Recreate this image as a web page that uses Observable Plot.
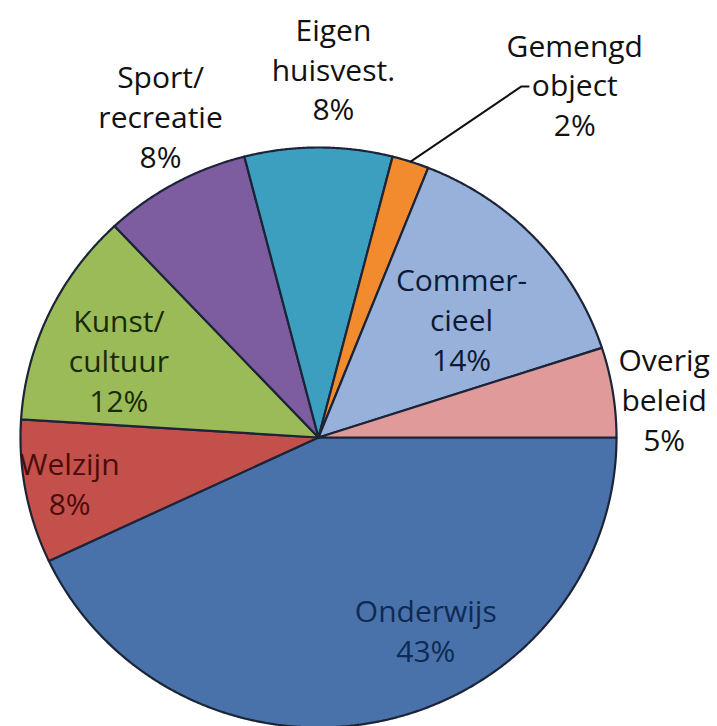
<!DOCTYPE html>
<html><head><meta charset="utf-8">
<script src="https://cdn.jsdelivr.net/npm/d3@7"></script>
<script src="https://cdn.jsdelivr.net/npm/@observablehq/plot@0.6"></script>
<style>body{margin:0;background:#fff}#chart svg{display:block}</style>
</head><body><div id="chart"></div>
<script>
// ---- data ----
const categories = ["Onderwijs", "Welzijn", "Kunst/\ncultuur", "Sport/\nrecreatie", "Eigen\nhuisvest.", "Gemengd\nobject", "Commer-\ncieel", "Overig\nbeleid"];
const shares = [43, 8, 12, 8, 8, 2, 14, 5];

// ---- styles / layout (kept apart from the data) ----
const sliceColors = ["#4872a9", "#c4504b", "#9bbb59", "#7e5ca0", "#3c9fbf", "#f28a2e", "#98b1da", "#e09a99"];
const labelColors = ["#0e2a55", "#4a0c0c", "#1a2a06", "#111111", "#111111", "#111111", "#0d1a36", "#111111"];
// label block centres, in pie units (x: -1..1 across, y: -1..1 up)
const labelX = [0.36, -0.835, -0.67, -0.53, 0.05, 0.86, 0.48, 1.16];
const labelY = [-0.66, -0.155, 0.27, 1.11, 1.275, 1.22, 0.41, 0.135];

const total = d3.sum(shares);
let cum = 0;
const slicePts = [];
const midAngles = [];
shares.forEach((v, i) => {
  const a0 = cum / total * 2 * Math.PI, a1 = (cum + v) / total * 2 * Math.PI;
  cum += v;
  midAngles.push(-(a0 + a1) / 2);
  slicePts.push({x: 0, y: 0, slice: i});
  const n = Math.max(4, Math.ceil((a1 - a0) / 0.005));
  for (let k = 0; k <= n; k++) {
    const a = -(a0 + (a1 - a0) * k / n); // clockwise from 3 o'clock
    slicePts.push({x: Math.cos(a), y: Math.sin(a), slice: i});
  }
});

const labels = categories.map((c, i) => ({
  x: labelX[i], y: labelY[i],
  text: c + "\n" + shares[i] + "%",
  color: labelColors[i]
}));

// leader for the small "Gemengd object" slice
const gi = 5;
const leader = [
  {x: Math.cos(midAngles[gi]) * 1.0, y: Math.sin(midAngles[gi]) * 1.0},
  {x: labelX[gi] - 0.18, y: labelY[gi] - 0.01},
  {x: labelX[gi] - 0.155, y: labelY[gi] - 0.01}
];

const chart = Plot.plot({
  width: 717, height: 726,
  margin: 0,
  x: {domain: [-1, 1], range: [20, 616], axis: null},
  y: {domain: [-1, 1], range: [727, 147], axis: null},
  color: {type: "identity"},
  marks: [
    Plot.line(slicePts, {
      x: "x", y: "y", z: "slice", curve: "linear-closed",
      fill: d => sliceColors[d.slice],
      stroke: "#1c2438", strokeWidth: 2.2, strokeLinejoin: "round"
    }),
    Plot.line(leader, {x: "x", y: "y", stroke: "#111", strokeWidth: 2}),
    Plot.text(labels, {
      x: "x", y: "y", text: "text", fill: "color",
      fontSize: 30, lineHeight: 1.33,
      fontFamily: "Open Sans", textAnchor: "middle"
    })
  ]
});
document.getElementById("chart").append(chart);
</script>
</body></html>
